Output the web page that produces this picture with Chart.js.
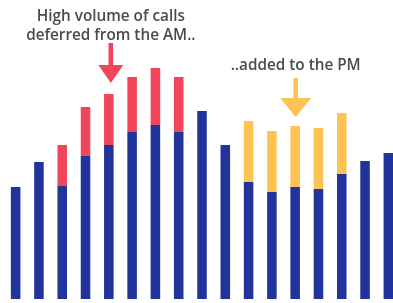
<!DOCTYPE html>
<html>
<head>
<meta charset="utf-8">
<script src="https://cdn.jsdelivr.net/npm/chart.js@4"></script>
<style>
  html, body { margin: 0; padding: 0; background: #fff; overflow: hidden; }
  #wrap { width: 400px; height: 303px; }
</style>
</head>
<body>
<div id="wrap"><canvas id="myChart" width="400" height="303"></canvas></div>
<script>
// half-hour slots across the day
var slots = ['1', '2', '3', '4', '5', '6', '7', '8', '9', '10', '11', '12', '13', '14', '15', '16', '17'];
var handled = [112, 137, 113, 143, 154, 167, 174, 167, 188, 154, 117, 107, 112, 110, 125, 138, 146];
var deferredAM = [0, 0, 41, 49, 51, 55, 57, 55, 0, 0, 0, 0, 0, 0, 0, 0, 0];
var addedPM = [0, 0, 0, 0, 0, 0, 0, 0, 0, 0, 61, 61, 61, 61, 61, 0, 0];

var BLUE = '#22349c';
var RED = '#f1455a';
var YELLOW = '#fec453';
var TEXT = '#4b4b4b';

// notes drawn above the bars: slot index, text lines, text baseline value, arrow values
var notes = [
    { slot: 4, dx: 2, color: RED, lines: ['High volume of calls', 'deferred from the AM..'], textTop: 278, shaftTop: 256, headTop: 234, tip: 216, half: 12.5 },
    { slot: 12, dx: 0.5, color: YELLOW, lines: ['..added to the PM'], textTop: 229, shaftTop: 221, headTop: 201, tip: 182, half: 15.5 }
];

var notesPlugin = {
    id: 'notes',
    afterDraw: function (chart) {
        var ctx = chart.ctx;
        var x = chart.scales.x;
        var y = chart.scales.y;
        ctx.save();
        notes.forEach(function (n) {
            var cx = x.getPixelForValue(n.slot) + n.dx;
            ctx.font = '600 15.3px "Open Sans", sans-serif';
            ctx.fillStyle = TEXT;
            ctx.textAlign = 'center';
            ctx.textBaseline = 'alphabetic';
            n.lines.forEach(function (line, i) {
                ctx.fillText(line, cx, y.getPixelForValue(n.textTop) + i * 19);
            });
            ctx.fillStyle = n.color;
            var sTop = y.getPixelForValue(n.shaftTop);
            var hTop = y.getPixelForValue(n.headTop);
            var tip = y.getPixelForValue(n.tip);
            ctx.fillRect(cx - 2.3, sTop, 4.6, hTop - sTop + 1);
            ctx.beginPath();
            ctx.moveTo(cx - n.half, hTop);
            ctx.lineTo(cx + n.half, hTop);
            ctx.lineTo(cx, tip);
            ctx.closePath();
            ctx.fill();
        });
        ctx.restore();
    }
};

var ctx = document.getElementById('myChart').getContext('2d');
var myChart = new Chart(ctx, {
    type: 'bar',
    data: {
        labels: slots,
        datasets: [{
            label: 'Handled',
            data: handled,
            backgroundColor: BLUE,
            borderWidth: 0
        }, {
            label: 'Deferred from AM',
            data: deferredAM,
            backgroundColor: RED,
            borderWidth: 0
        }, {
            label: 'Added to PM',
            data: addedPM,
            backgroundColor: YELLOW,
            borderWidth: 0
        }]
    },
    options: {
        responsive: false,
        animation: false,
        layout: {
            padding: { left: 4, right: 0, top: 0, bottom: 4 }
        },
        datasets: {
            bar: {
                categoryPercentage: 1,
                barPercentage: 0.41
            }
        },
        scales: {
            x: {
                stacked: true,
                display: false
            },
            y: {
                stacked: true,
                display: false,
                min: 0,
                max: 299
            }
        },
        plugins: {
            legend: { display: false },
            tooltip: { enabled: false }
        }
    },
    plugins: [notesPlugin]
});
</script>
</body>
</html>
